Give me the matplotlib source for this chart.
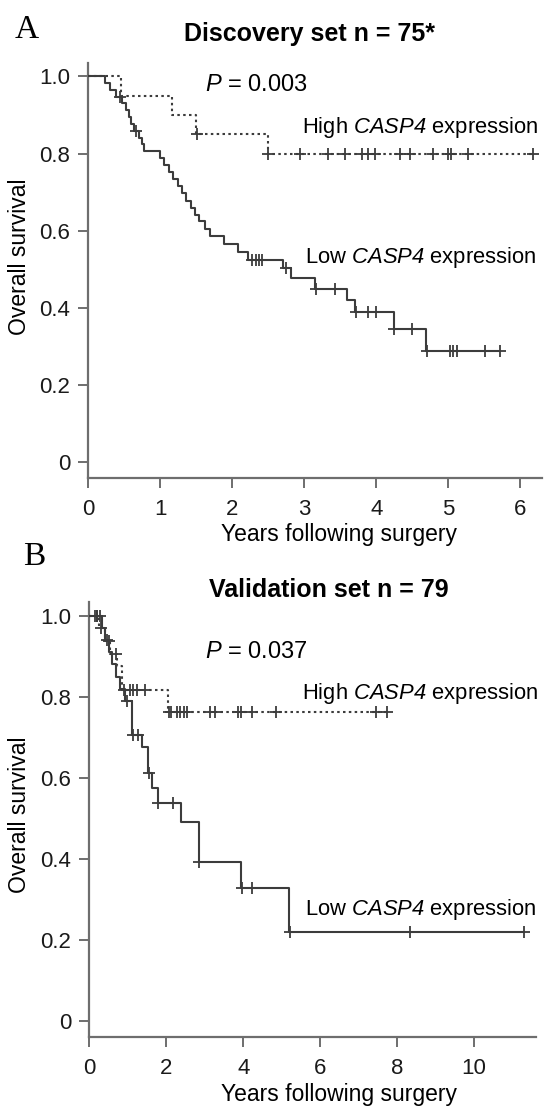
import numpy as np
import matplotlib
matplotlib.use("Agg")
import matplotlib.pyplot as plt

plt.rcParams['font.family'] = ['Liberation Sans', 'DejaVu Sans']
plt.rcParams['mathtext.fontset'] = 'custom'
plt.rcParams['mathtext.it'] = 'Liberation Sans:italic'
plt.rcParams['mathtext.rm'] = 'Liberation Sans:italic'  # so the 4 in CASP4 is italic too

# panel A - discovery set
a_low_t = [0, 0.23, 0.30, 0.38, 0.47, 0.52, 0.56, 0.60, 0.64, 0.70, 0.74, 0.77,
           0.99, 1.05, 1.12, 1.18, 1.24, 1.30, 1.36, 1.42, 1.48, 1.54, 1.62, 1.69,
           1.89, 2.08, 2.22, 2.71, 2.82, 3.15, 3.59, 3.71, 4.24, 4.69]
a_low_s = [1.0, 0.982, 0.965, 0.947, 0.930, 0.912, 0.894, 0.877, 0.859, 0.841, 0.824, 0.806,
           0.788, 0.770, 0.751, 0.733, 0.715, 0.697, 0.678, 0.660, 0.642, 0.624, 0.605, 0.587,
           0.566, 0.545, 0.524, 0.503, 0.478, 0.448, 0.420, 0.390, 0.345, 0.289]
a_low_end = 5.72
a_low_cens = [0.44, 0.67, 2.27, 2.33, 2.37, 2.41, 2.74, 3.16, 3.42, 3.72, 3.89, 4.00,
              4.25, 4.50, 4.70, 5.02, 5.07, 5.12, 5.51, 5.72]

a_high_t = [0, 0.45, 1.16, 1.50, 2.49]
a_high_s = [1.0, 0.95, 0.90, 0.85, 0.80]
a_high_end = 6.18
a_high_cens = [1.51, 2.50, 2.94, 3.33, 3.56, 3.80, 3.89, 3.98, 4.33, 4.47, 4.79,
               4.99, 5.04, 5.27, 6.18]

# panel B - validation set
b_low_t = [0, 0.33, 0.42, 0.52, 0.60, 0.70, 0.80, 0.92, 1.10, 1.38, 1.53, 1.63,
           1.78, 2.38, 2.84, 3.95, 5.20]
b_low_s = [1.0, 0.97, 0.94, 0.91, 0.88, 0.85, 0.82, 0.79, 0.705, 0.677, 0.611, 0.574,
           0.538, 0.490, 0.392, 0.327, 0.218]
b_low_end = 11.3
b_low_cens = [0.14, 0.20, 0.27, 0.45, 0.97, 1.14, 1.26, 1.54, 1.79, 2.18, 2.85, 3.97,
              4.22, 5.22, 8.34, 11.3]

b_high_t = [0, 0.25, 0.40, 0.55, 0.72, 0.84, 2.05]
b_high_s = [1.0, 0.969, 0.938, 0.906, 0.875, 0.816, 0.763]
b_high_end = 7.75
b_high_cens = [0.20, 0.30, 0.50, 0.70, 0.90, 1.05, 1.14, 1.23, 1.45, 2.06, 2.12, 2.27,
               2.36, 2.45, 2.55, 3.14, 3.27, 3.86, 3.95, 4.23, 4.86, 7.45, 7.73]

y_ticks = [0, 0.2, 0.4, 0.6, 0.8, 1.0]
y_labels = ['0', '0.2', '0.4', '0.6', '0.8', '1.0']

W, H = 549, 1107
fig = plt.figure(figsize=(W / 100, H / 100), dpi=100)

LINE = '#3c3c3c'
AXC = '#6e6e6e'


def ftext(x, y, s, **kw):
    # place text by pixel position in the figure
    kw.setdefault('va', 'center')
    fig.text(x / W, 1 - y / H, s, **kw)


def km(ax, t, s, t_end, cens, dotted=False):
    t = np.asarray(t)
    s = np.asarray(s)
    xs = np.append(t, t_end)
    ys = np.append(s, s[-1])
    ls = (0, (1.2, 1.6)) if dotted else '-'
    ax.step(xs, ys, where='post', color=LINE, lw=1.5, ls=ls, zorder=3)
    c = np.asarray(cens)
    cy = s[np.searchsorted(t, c, side='right') - 1]
    ax.plot(c, cy, ls='none', marker='+', ms=8, mew=1.3, color=LINE, zorder=4)


def style(ax, xticks, xmax):
    for side in ('top', 'right'):
        ax.spines[side].set_visible(False)
    for side in ('left', 'bottom'):
        ax.spines[side].set_color(AXC)
        ax.spines[side].set_linewidth(1.6)
    ax.set_xlim(0, xmax)
    ax.set_xticks(xticks)
    ax.set_xticklabels([str(v) for v in xticks])
    ax.set_yticks(y_ticks)
    ax.set_yticklabels(y_labels)
    ax.tick_params(axis='both', direction='out', length=7, width=1.4, color=AXC,
                   labelsize=16, labelcolor='#1a1a1a')
    ax.tick_params(axis='x', pad=8)
    ax.tick_params(axis='y', pad=6)


# top panel
ax1 = fig.add_axes([0.1607, 0.5679, 0.8266, 0.3749])
km(ax1, a_high_t, a_high_s, a_high_end, a_high_cens, dotted=True)
km(ax1, a_low_t, a_low_s, a_low_end, a_low_cens)
style(ax1, [0, 1, 2, 3, 4, 5, 6], 6.3)
ax1.set_ylim(-0.042, 1.034)

# bottom panel
ax2 = fig.add_axes([0.1627, 0.0635, 0.8131, 0.393])
km(ax2, b_high_t, b_high_s, b_high_end, b_high_cens, dotted=True)
km(ax2, b_low_t, b_low_s, b_low_end, b_low_cens)
style(ax2, [0, 2, 4, 6, 8, 10], 11.6)
ax2.set_ylim(-0.040, 1.035)

# texts
serif = ['Liberation Serif', 'DejaVu Serif']
ftext(27, 30, 'A', ha='center', fontsize=24, family=serif)
ftext(310, 34, 'Discovery set n = 75*', ha='center', fontsize=18, fontweight='bold')
ftext(205, 85, r'$P$ = 0.003', ha='left', fontsize=17)
ftext(302, 128, r'High $CASP4$ expression', ha='left', fontsize=15.8)
ftext(305, 258, r'Low $CASP4$ expression', ha='left', fontsize=15.8)
ftext(339, 534, 'Years following surgery', ha='center', fontsize=16.5)
ftext(20, 257, 'Overall survival', ha='center', rotation=90, fontsize=16.5)

ftext(34, 557, 'B', ha='center', fontsize=24, family=serif)
ftext(329, 590, 'Validation set n = 79', ha='center', fontsize=18, fontweight='bold')
ftext(205, 652, r'$P$ = 0.037', ha='left', fontsize=17)
ftext(302, 693, r'High $CASP4$ expression', ha='left', fontsize=15.8)
ftext(305, 910, r'Low $CASP4$ expression', ha='left', fontsize=15.8)
ftext(339, 1094, 'Years following surgery', ha='center', fontsize=16.5)
ftext(20, 815, 'Overall survival', ha='center', rotation=90, fontsize=16.5)

fig.savefig('out.png', dpi=100, facecolor='white')
